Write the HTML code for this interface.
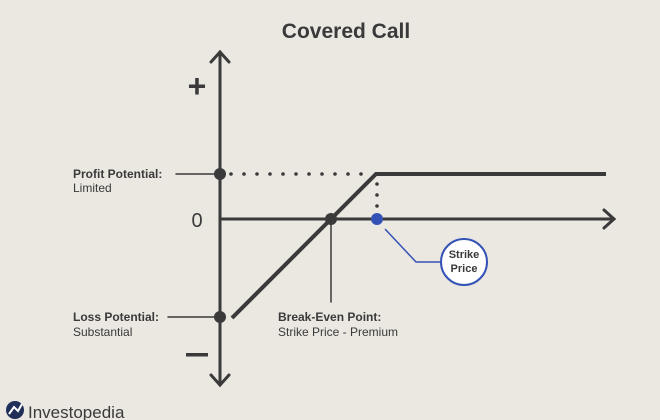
<!DOCTYPE html>
<html><head><style>
body{margin:0;background:#ebe7e1;}
svg{display:block}
text{font-family:"Liberation Sans",sans-serif;fill:#3a3a3a}
</style></head><body>
<svg width="660" height="420" viewBox="0 0 660 420">
<rect width="660" height="420" fill="#ebe7e1"/>
<text x="346" y="38" font-size="21" text-anchor="middle" font-weight="bold" fill="#3f3f3f">Covered Call</text>
<g stroke="#3a3a3a" stroke-width="3" fill="none" stroke-linecap="round">
<line x1="220" y1="52" x2="220" y2="385"/>
<polyline points="211,62 220,52 229,62"/>
<polyline points="211,375 220,385 229,375"/>
<line x1="220" y1="219" x2="614" y2="219"/>
<polyline points="604,210 614,219 604,228"/>
<polyline points="232,318 376,174 606,174" stroke-width="4" stroke-linecap="butt"/>
<line x1="331" y1="219" x2="331" y2="302" stroke-width="1.5"/>
<line x1="176" y1="174" x2="220" y2="174" stroke-width="1.5"/>
<line x1="168" y1="317" x2="220" y2="317" stroke-width="1.5"/>
</g>
<g fill="#3a3a3a">
<circle cx="231" cy="174" r="1.8"/><circle cx="244" cy="174" r="1.8"/><circle cx="257" cy="174" r="1.8"/><circle cx="270" cy="174" r="1.8"/><circle cx="283" cy="174" r="1.8"/><circle cx="296" cy="174" r="1.8"/><circle cx="309" cy="174" r="1.8"/><circle cx="322" cy="174" r="1.8"/><circle cx="335" cy="174" r="1.8"/><circle cx="348" cy="174" r="1.8"/><circle cx="361" cy="174" r="1.8"/>
<circle cx="377" cy="184" r="1.8"/><circle cx="377" cy="195" r="1.8"/><circle cx="377" cy="206" r="1.8"/>
<circle cx="220" cy="174" r="6"/><circle cx="220" cy="317" r="6"/><circle cx="331" cy="219" r="6"/>
</g>
<circle cx="377" cy="219" r="6" fill="#3452b5"/>
<polyline points="385,229 416,262 440,262" stroke="#3452b5" stroke-width="1.5" fill="none"/>
<circle cx="464" cy="262" r="23" fill="#fff" stroke="#3452b5" stroke-width="2"/>
<text x="464" y="258" font-size="11" font-weight="bold" text-anchor="middle" fill="#3452b5">Strike</text>
<text x="464" y="272" font-size="11" font-weight="bold" text-anchor="middle" fill="#3452b5">Price</text>
<text x="197" y="97" font-size="32" text-anchor="middle" font-weight="bold">+</text>
<rect x="186" y="353" width="22" height="3.5" fill="#3a3a3a"/>
<text x="197" y="227" font-size="20" text-anchor="middle">0</text>
<text x="73" y="178" font-size="12" font-weight="bold">Profit Potential:</text>
<text x="73" y="192" font-size="12" fill="#555">Limited</text>
<text x="73" y="321" font-size="12" font-weight="bold">Loss Potential:</text>
<text x="73" y="336" font-size="12" fill="#555">Substantial</text>
<text x="278" y="321" font-size="12" font-weight="bold">Break-Even Point:</text>
<text x="278" y="336" font-size="12" fill="#555">Strike Price - Premium</text>
<circle cx="15" cy="410" r="9" fill="#1f2f5a"/>
<path d="M9 414 L14 407 L18 411 L22 404" stroke="#fff" stroke-width="2" fill="none"/>
<text x="28" y="418" font-size="17" fill="#2a2a2a">Investopedia</text>
</svg>
</body></html>
